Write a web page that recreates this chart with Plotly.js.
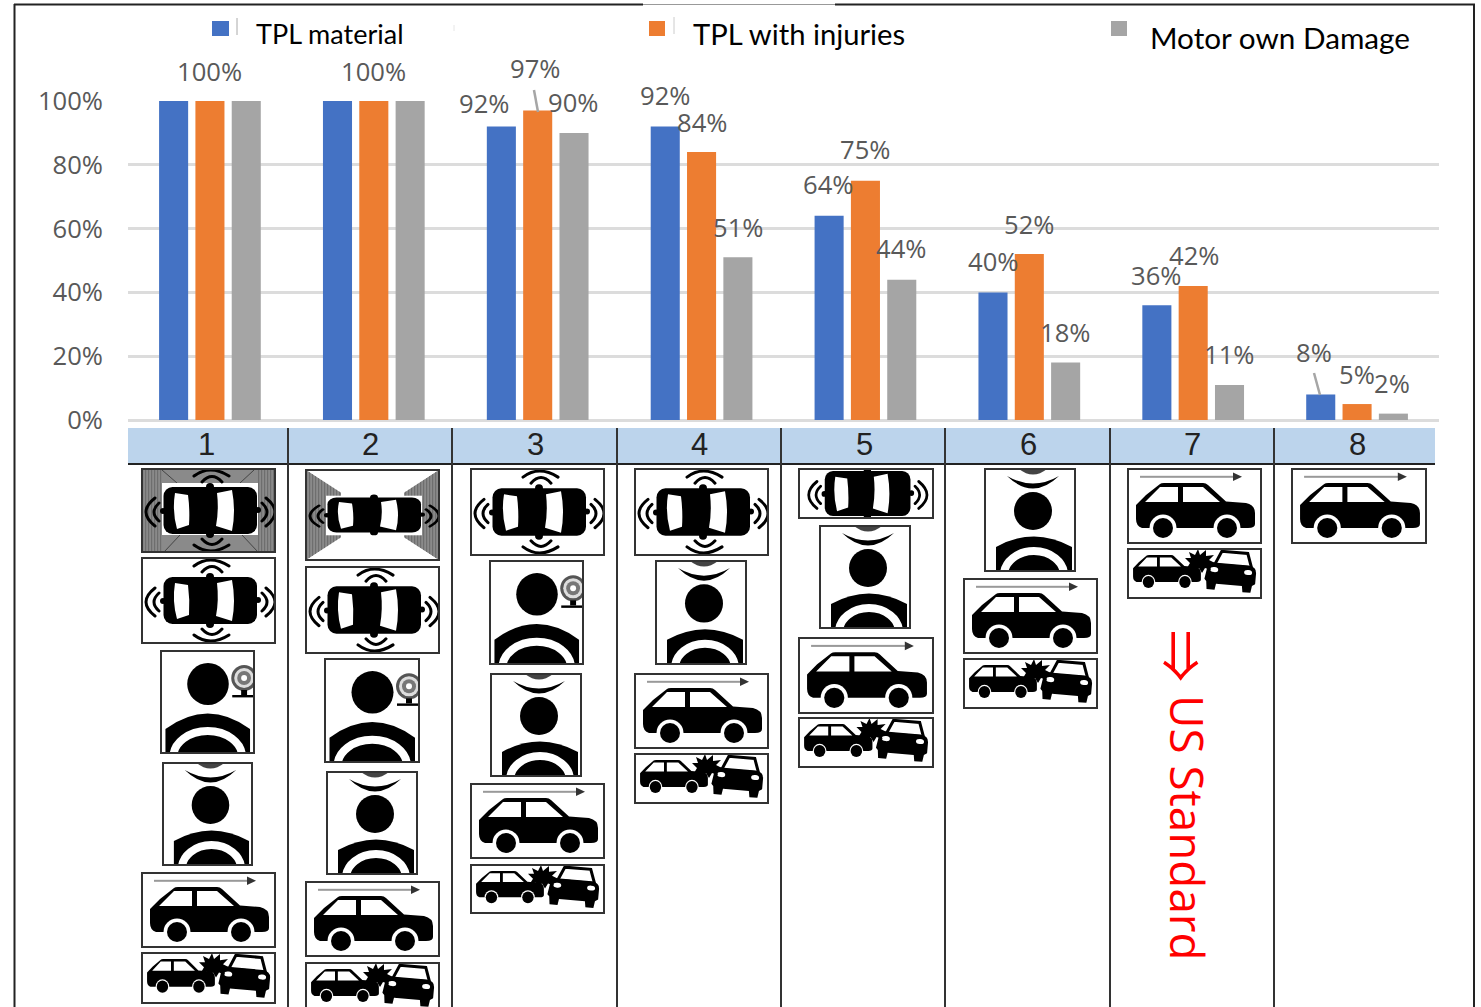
<!DOCTYPE html>
<html>
<head>
<meta charset="utf-8">
<title>Coverage by vehicle equipment level</title>
<script src="https://cdn.plot.ly/plotly-3.0.1.min.js"></script>
<style>html,body{margin:0;padding:0;background:#fff}#chart{width:1481px;height:1007px}</style>
</head>
<body>
<div id="chart"></div>
<script>
// Chart data
const levels = [1, 2, 3, 4, 5, 6, 7, 8];
const tplMaterial = [100, 100, 92, 92, 64, 40, 36, 8];
const tplInjuries = [100, 100, 97, 84, 75, 52, 42, 5];
const motorOwnDamage = [100, 100, 90, 51, 44, 18, 11, 2];
const seriesNames = ['TPL material', 'TPL with injuries', 'Motor own Damage'];
const seriesColors = ['#4472c4', '#ed7d31', '#a5a5a5'];

// Label nudges in pixels from the top of each bar; null leaves the bar unlabelled
const labelNudges = [
  [null, null, [-17, -23], [0, -31], [-1, -31], [0, -31], [-1, -30], [-7, -42]],
  [[0, -30], [0, -30], [-3, -42], [0, -30], [0, -31], [0, -30], [1, -31], [0, -30]],
  [null, null, [-1, -30], [0, -30], [-1, -31], [-1, -30], [-1, -30], [-1, -30]]
];

// Plot rectangle in page pixels
const PLOT = {left: 128, right: 1439, top: 101, bottom: 420, w: 1481, h: 1007};
const px = x => (x - PLOT.left) / (PLOT.right - PLOT.left);
const py = y => (PLOT.bottom - y) / (PLOT.bottom - PLOT.top);

// Pictograms, all drawn in their own coordinate systems and stretched into their boxes
const sideCar =
  '<path d="M8,36 L18,26 L32,15 Q33,14 36,14 L75,14 Q78,14 80,16 L98,32.5 L118,34 Q127,36 127,44 L127,55 Q127,59 120,59 L14,59 Q8,57 8,50 Z"/>' +
  '<path fill="#fff" d="M17,33 L32,18 L50,18 L50,33 Z M55,18 L75,18 L92,33 L55,33 Z"/>' +
  '<circle cx="35" cy="59" r="13.5" fill="#fff"/><circle cx="35" cy="59" r="10"/>' +
  '<circle cx="99" cy="59" r="13.5" fill="#fff"/><circle cx="99" cy="59" r="10"/>';

const WAVE = 'fill="none" stroke="#000" stroke-width="3" stroke-linecap="round"';
const carBody =
  '<rect x="21.5" y="19" width="93.5" height="47" rx="9"/>' +
  '<circle cx="21" cy="43" r="3"/><circle cx="116" cy="42" r="3"/><circle cx="68" cy="19" r="4"/><circle cx="68" cy="66" r="4"/>' +
  '<path fill="#fff" d="M33,25 L46,27 Q48,42 47,57 L35,61 Q30,43 33,25 Z M75,25 L90,22 Q94,43 90,63 L74,58 Q77,42 75,25 Z"/>';
const frontRearWaves = `<path ${WAVE} d="M52,8 Q68,-4 87,8 M60,14 Q70,3 80,14 M60,71 Q70,82 80,71 M52,77 Q68,89 87,77"/>`;
const sideWaves = `<path ${WAVE} d="M13,30 Q-5,44 13,58 M17,35 Q7,44 17,53 M120,35 Q130,44 120,53 M124,30 Q142,44 124,58"/>`;

function stripes(x0, x1) {
  let out = '';
  for (let x = x0; x < x1; x += 3) out += `<rect x="${x}" y="0" width="1.2" height="100" fill="#6e6e6e"/>`;
  return out;
}

const shoulders = (left, right, top, lower) =>
  `<path d="M${left},104 L${left},78 Q${(left + right) / 2},${top - 8} ${right},78 L${right},104 Z"/>` +
  `<path fill="none" stroke="#fff" stroke-width="8" d="M${left + 8},106 A${(right - left) / 2 - 8},${106 - lower} 0 0 1 ${right - 8},106"/>`;

const ICONS = {
  top: {vb: [133, 85], body: frontRearWaves + sideWaves + carBody},
  topTight: {
    vb: [133, 49],
    body: `<g transform="translate(6,-16.3) scale(0.91,0.96)">${sideWaves}${carBody}</g>`
  },
  fused1: {
    vb: [133, 83],
    body: '<rect width="133" height="83" fill="#8a8a8a"/>' + stripes(0, 20) + stripes(116, 133) +
      '<path fill="none" stroke="#444" stroke-width="1" d="M20,1 L35,14 M112,1 L98,14 M22,83 L38,66 M116,83 L100,66"/>' +
      '<rect x="20" y="14" width="96" height="52" fill="#fff"/>' +
      `<g transform="translate(0,-1)">${frontRearWaves}${sideWaves}${carBody}</g>`
  },
  fused2: {
    vb: [133, 91],
    body: '<defs><clipPath id="wedges"><path d="M0,0 L35,23 L35,68 L0,91 Z M133,0 L98,23 L98,68 L133,91 Z"/></clipPath></defs>' +
      `<g clip-path="url(#wedges)"><rect width="133" height="91" fill="#8a8a8a"/>${stripes(0, 133)}</g>` +
      '<rect x="20" y="26" width="96" height="40" fill="#fff"/>' +
      `<g transform="translate(0,13.6) scale(1,0.75)">${sideWaves}${carBody}</g>`
  },
  cam: {
    vb: [94, 102],
    body: '<circle cx="47.5" cy="33" r="21"/>' + shoulders(4.5, 90, 55, 80) +
      '<circle cx="84" cy="27" r="13" fill="#555"/><circle cx="84" cy="27" r="10" fill="#ddd"/><circle cx="84" cy="27" r="7" fill="#777"/><circle cx="84" cy="27" r="3" fill="#fff"/>' +
      '<rect x="81" y="39" width="6" height="5"/><rect x="72" y="44" width="22" height="2.4"/>'
  },
  wave: {
    vb: [90, 102],
    body: '<circle cx="48" cy="42" r="19"/>' + shoulders(11, 87, 65, 82) +
      '<path d="M22,7 Q48,32 74,7 Q48,22 22,7 Z"/>' +
      '<path fill="#444" d="M34,0 Q48,11 62,0 Z"/>'
  },
  side: {
    vb: [133, 74],
    body: '<rect x="12" y="6.8" width="94" height="2" fill="#999"/><path fill="#333" d="M105,3.5 L114,7.8 L105,12 Z"/>' + sideCar
  },
  crash: {
    vb: [133, 49],
    body: '<g transform="translate(0.5,-2.4) scale(0.57,0.6)">' + sideCar.replace(/13\.5/g, '12') + '</g>' +
      '<g transform="rotate(5 102 24)">' +
      '<path fill="#fff" stroke="#000" stroke-width="3" d="M86,17 L92,3 L118,3 L123,17 Z"/>' +
      '<path d="M79,19 Q77,15 85,15 L120,15 Q128,16 128,22 L128,33 L125,35 L124,42 L116,42 L115,36 L89,36 L88,42 L80,42 L79,34 L77,32 Z"/>' +
      '<ellipse cx="86" cy="22" rx="4" ry="2.5" fill="#fff"/><ellipse cx="120" cy="22" rx="4" ry="2.5" fill="#fff"/>' +
      '</g>' +
      '<path d="M57,9 L63,9 L61,3 L67,6 L70,0 L72,6 L78,1 L78,7 L86,6 L81,11 L87,14 L81,16 L83,21 L77,19 L74,24 L71,19 L66,23 L65,18 L59,19 L62,14 Z"/>'
  }
};

// Kind and page rectangle of each pictogram box, column by column
const iconBoxes = [
  ['fused1', 142, 469, 275, 552], ['top', 142, 558, 275, 643], ['cam', 161, 651, 254, 753],
  ['wave', 163, 763, 252, 865], ['side', 142, 873, 275, 947], ['crash', 142, 953, 275, 1003],
  ['fused2', 306, 470, 439, 560], ['top', 306, 567, 439, 653], ['cam', 325, 659, 419, 762],
  ['wave', 327, 772, 417, 874], ['side', 306, 882, 439, 956], ['crash', 306, 963, 439, 1012],
  ['top', 471, 469, 604, 555], ['cam', 490, 561, 583, 664], ['wave', 491, 674, 581, 776],
  ['side', 471, 784, 604, 858], ['crash', 471, 865, 604, 913],
  ['top', 635, 469, 768, 555], ['wave', 656, 561, 746, 664], ['side', 635, 674, 768, 748], ['crash', 635, 754, 768, 803],
  ['topTight', 799, 469, 933, 518], ['wave', 820, 526, 910, 628], ['side', 799, 638, 933, 713], ['crash', 799, 718, 933, 767],
  ['wave', 985, 469, 1075, 571], ['side', 964, 579, 1097, 653], ['crash', 964, 659, 1097, 708],
  ['side', 1128, 469, 1261, 543], ['crash', 1128, 549, 1261, 598],
  ['side', 1292, 469, 1426, 543]
];

const iconUri = kind => {
  const ic = ICONS[kind];
  const svg = `<svg xmlns="http://www.w3.org/2000/svg" width="${ic.vb[0] * 2}" height="${ic.vb[1] * 2}" viewBox="0 0 ${ic.vb[0]} ${ic.vb[1]}" preserveAspectRatio="none">${ic.body}</svg>`;
  return 'data:image/svg+xml;charset=utf-8,' + encodeURIComponent(svg);
};

const images = iconBoxes.map(([kind, x0, y0, x1, y1]) => ({
  source: iconUri(kind), xref: 'paper', yref: 'paper',
  x: px(x0), y: py(y0), sizex: px(x1) - px(x0), sizey: py(y0) - py(y1),
  xanchor: 'left', yanchor: 'top', sizing: 'stretch', layer: 'above'
}));

// Static page furniture: frame, header band, column rules, legend swatches, leader lines
const pageLine = (x0, y0, x1, y1, color, width) => ({
  type: 'line', xref: 'paper', yref: 'paper',
  x0: px(x0), y0: py(y0), x1: px(x1), y1: py(y1), line: {color, width}
});
const pageRect = (x0, y0, x1, y1, fill, lineColor, lineWidth) => ({
  type: 'rect', xref: 'paper', yref: 'paper',
  x0: px(x0), y0: py(y0), x1: px(x1), y1: py(y1),
  fillcolor: fill, line: {color: lineColor || fill, width: lineWidth || 0}
});

const columnRules = [288, 452, 617, 781, 945, 1110, 1274];
const shapes = [
  pageLine(14.5, 4, 14.5, 1007, '#222', 2),
  pageLine(1474, 4, 1474, 1007, '#222', 2),
  pageLine(14, 4.5, 643, 4.5, '#222', 2),
  pageLine(643, 4.5, 835, 4.5, '#999', 1),
  pageLine(835, 4.5, 1475, 4.5, '#222', 2),
  pageRect(128, 428, 1435, 464, '#bcd4ec'),
  pageLine(128, 464, 1435, 464, '#222', 2),
  ...columnRules.map(x => pageLine(x, 428, x, 1007, '#333', 2)),
  ...iconBoxes.map(([, x0, y0, x1, y1]) => pageRect(x0, y0, x1, y1, 'rgba(0,0,0,0)', '#333', 2)),
  pageRect(212, 21, 229, 36, seriesColors[0]),
  pageRect(649, 21, 665, 36, seriesColors[1]),
  pageRect(1111, 21, 1127, 36, seriesColors[2]),
  pageLine(237, 18, 237, 35, '#aaa', 1),
  pageLine(454, 25, 454, 31, '#e6e6e6', 1),
  pageLine(674, 17, 674, 34, '#ccc', 1),
  pageLine(534, 90, 538, 112, '#a6a6a6', 2.5),
  pageLine(1314, 373, 1320, 395, '#a6a6a6', 2.5)
];

// Text annotations
const series = [tplMaterial, tplInjuries, motorOwnDamage];
const BAR_PITCH = 0.2216;
const valueLabels = [];
series.forEach((vals, s) => vals.forEach((v, i) => {
  const n = labelNudges[s][i];
  if (!n) return;
  valueLabels.push({
    x: levels[i] + (s - 1) * BAR_PITCH, y: v, xref: 'x', yref: 'y',
    text: v + '%', showarrow: false, xanchor: 'center', yanchor: 'middle',
    xshift: n[0], yshift: -n[1],
    font: {family: '"Open Sans", sans-serif', size: 25.6, color: '#595959'}
  });
}));

const levelCentres = [206, 370, 535, 699, 864, 1028, 1192, 1357];
const levelLabels = levels.map((l, i) => ({
  x: px(levelCentres[i]), y: py(444), xref: 'paper', yref: 'paper', text: String(l), showarrow: false,
  xanchor: 'center', yanchor: 'middle',
  font: {family: '"Liberation Sans", sans-serif', size: 31, color: '#222'}
}));

const legendSpots = [[254, 33, 27], [691, 34, 29.2], [1148, 38, 29.7]];
const legendLabels = seriesNames.map((name, i) => ({
  x: px(legendSpots[i][0]), y: py(legendSpots[i][1]), xref: 'paper', yref: 'paper',
  text: name, showarrow: false, xanchor: 'left', yanchor: 'middle',
  font: {family: 'Lato, sans-serif', size: legendSpots[i][2], color: '#000'}
}));

const usStandard = [
  {x: px(1184), y: py(656), xref: 'paper', yref: 'paper', text: '⇒', textangle: 90, showarrow: false,
   xanchor: 'center', yanchor: 'middle', font: {family: '"Noto Sans CJK JP", sans-serif', size: 52, color: '#f00'}},
  {x: px(1188), y: py(828), xref: 'paper', yref: 'paper', text: 'US Standard', textangle: 90, showarrow: false,
   xanchor: 'center', yanchor: 'middle', font: {family: '"Open Sans", sans-serif', size: 45.8, color: '#f00'}}
];

const traces = series.map((vals, s) => ({
  type: 'bar', name: seriesNames[s], x: levels, y: vals,
  marker: {color: seriesColors[s]}, hoverinfo: 'x+y+name'
}));

const layout = {
  width: PLOT.w, height: PLOT.h,
  margin: {l: PLOT.left, r: PLOT.w - PLOT.right, t: PLOT.top, b: PLOT.h - PLOT.bottom, pad: 0},
  paper_bgcolor: '#fff', plot_bgcolor: '#fff',
  showlegend: false, barmode: 'group', bargap: 0.335, bargroupgap: 0.2,
  xaxis: {range: [0.5, 8.5], showticklabels: false, ticks: '', showgrid: false, zeroline: false, showline: false, fixedrange: true},
  yaxis: {
    range: [0, 100], dtick: 20, ticksuffix: '%', ticks: '', ticklabelstandoff: 24,
    gridcolor: '#dcdcdc', gridwidth: 3, zeroline: true, zerolinecolor: '#dcdcdc', zerolinewidth: 3,
    showline: false, fixedrange: true,
    tickfont: {family: '"Open Sans", sans-serif', size: 25.6, color: '#595959'}
  },
  shapes, images,
  annotations: [...valueLabels, ...levelLabels, ...legendLabels, ...usStandard]
};

Plotly.newPlot('chart', traces, layout, {displayModeBar: false, staticPlot: true});
</script>
</body>
</html>
